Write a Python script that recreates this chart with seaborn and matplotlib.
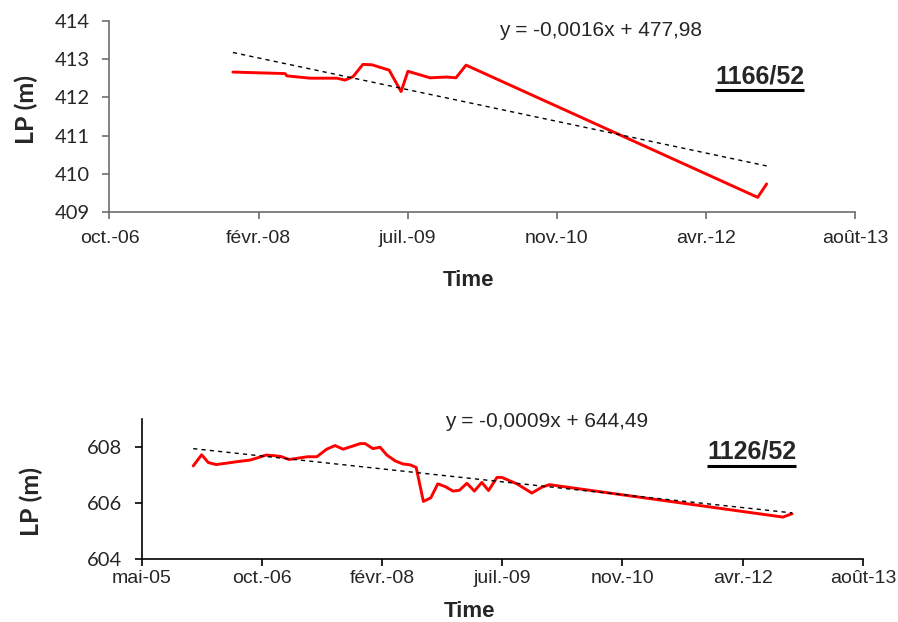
import numpy as np
import pandas as pd
import matplotlib
matplotlib.use("Agg")
import matplotlib.pyplot as plt
import seaborn as sns

# dates are Excel day serials (1 tick = 500 days)
top_dates = [39414, 39589, 39595, 39673, 39763, 39790, 39817, 39850, 39880,
             39938, 39978, 40001, 40075, 40132, 40162, 40196, 41174, 41204]
top_lp = [412.66, 412.62, 412.56, 412.50, 412.50, 412.45, 412.54, 412.86, 412.85,
          412.71, 412.15, 412.68, 412.51, 412.53, 412.51, 412.84, 409.39, 409.74]

bot_dates = [38715, 38750, 38778, 38810, 38854, 38903, 38951, 38986, 39018, 39048,
             39079, 39114, 39152, 39191, 39229, 39270, 39305, 39338, 39378, 39409,
             39430, 39462, 39492, 39520, 39555, 39587, 39617, 39642, 39672, 39703,
             39732, 39763, 39795, 39822, 39853, 39884, 39915, 39943, 39978, 39998,
             40061, 40123, 40165, 40196, 41167, 41205]
bot_lp = [607.33, 607.73, 607.45, 607.38, 607.43, 607.49, 607.54, 607.63, 607.72, 607.70,
          607.67, 607.56, 607.61, 607.66, 607.66, 607.93, 608.06, 607.93, 608.04, 608.13,
          608.13, 607.95, 608.00, 607.72, 607.51, 607.40, 607.37, 607.28, 606.06, 606.19,
          606.69, 606.59, 606.43, 606.46, 606.71, 606.43, 606.74, 606.45, 606.92, 606.92,
          606.69, 606.36, 606.57, 606.66, 605.50, 605.62]

# linear trendlines (Excel), end values
top_trend_dates = [39414, 41204]
top_trend = [413.17, 410.21]
bot_trend_dates = [38715, 41205]
bot_trend = [607.95, 605.65]

top_ticks = [39000, 39500, 40000, 40500, 41000, 41500]
top_ticklabels = ["oct.-06", "févr.-08", "juil.-09", "nov.-10", "avr.-12", "août-13"]
bot_ticks = [38500, 39000, 39500, 40000, 40500, 41000, 41500]
bot_ticklabels = ["mai-05", "oct.-06", "févr.-08", "juil.-09", "nov.-10", "avr.-12", "août-13"]

top_eq = "y = -0,0016x + 477,98"
bot_eq = "y = -0,0009x + 644,49"
top_name = "1166/52"
bot_name = "1126/52"

sns.set_style("white")
plt.rcParams["font.family"] = ["Liberation Sans", "DejaVu Sans"]

fig = plt.figure(figsize=(8.98, 6.22), dpi=100)
ax1 = fig.add_axes([0.1219, 0.6587, 0.8301, 0.3080])
ax2 = fig.add_axes([0.1576, 0.1013, 0.8034, 0.2246])

narrow = ["Liberation Sans Narrow", "Liberation Sans"]
calib = ["Lato", "DejaVu Sans"]


def draw(ax, dates, lp, tr_d, tr_v, ticks, ticklabels, ylim, yticks, eq, eq_pos,
         name, name_pos, spine_col, xpad):
    df = pd.DataFrame({"date": dates, "lp": lp})
    sns.lineplot(data=df, x="date", y="lp", color="red", linewidth=2.1, ax=ax)
    sns.lineplot(x=tr_d, y=tr_v, color="black", linewidth=1, linestyle=(0, (3, 3)), ax=ax)
    ax.set_xlim(ticks[0], ticks[-1])
    ax.set_ylim(*ylim)
    ax.set_xticks(ticks)
    ax.set_xticklabels(ticklabels, family=narrow, fontsize=14)
    ax.set_yticks(yticks)
    for t in ax.get_yticklabels():
        t.set_fontfamily(calib)
        t.set_fontsize(14.5)
    for s in ["top", "right"]:
        ax.spines[s].set_visible(False)
    for s in ["left", "bottom"]:
        ax.spines[s].set_color(spine_col)
        ax.spines[s].set_linewidth(1.2)
    ax.tick_params(axis="both", direction="out", length=5, width=1.2, color=spine_col,
                   bottom=True, left=True)
    ax.tick_params(axis="y", pad=9)
    ax.tick_params(axis="x", pad=xpad)
    ax.set_xlabel("Time", fontsize=16, fontweight="bold", family=narrow)
    ax.set_ylabel("LP (m)", fontsize=18, fontweight="bold", family=calib)
    ax.text(eq_pos[0], eq_pos[1], eq, transform=ax.transAxes, ha="center", va="center",
            fontsize=15, family=narrow)
    nt = ax.text(name_pos[0], name_pos[1], name, transform=ax.transAxes, ha="center",
                 va="center", fontsize=18, fontweight="bold")
    return nt


n1 = draw(ax1, top_dates, top_lp, top_trend_dates, top_trend, top_ticks, top_ticklabels,
          (409, 414), [409, 410, 411, 412, 413, 414], top_eq, (0.659, 0.951),
          top_name, (0.872, 0.71), "#6d6d6d", 8)
n2 = draw(ax2, bot_dates, bot_lp, bot_trend_dates, bot_trend, bot_ticks, bot_ticklabels,
          (604, 609), [604, 606, 608], bot_eq, (0.561, 0.981),
          bot_name, (0.846, 0.766), "black", 3)

ax1.yaxis.set_label_coords(-0.096, 0.534)
ax2.yaxis.set_label_coords(-0.136, 0.415)
ax1.xaxis.set_label_coords(0.482, -0.30)
ax2.xaxis.set_label_coords(0.454, -0.30)

# underline the well names
fig.canvas.draw()
r = fig.canvas.get_renderer()
for ax, t in [(ax1, n1), (ax2, n2)]:
    bb = t.get_window_extent(r)
    y = bb.y0 - 2
    (x0, y0), (x1, _) = ax.transAxes.inverted().transform([(bb.x0, y), (bb.x1, y)])
    ax.plot([x0, x1], [y0, y0], color="black", lw=2.2, solid_capstyle="butt",
            transform=ax.transAxes, clip_on=False)

fig.savefig("out.png", dpi=100)
